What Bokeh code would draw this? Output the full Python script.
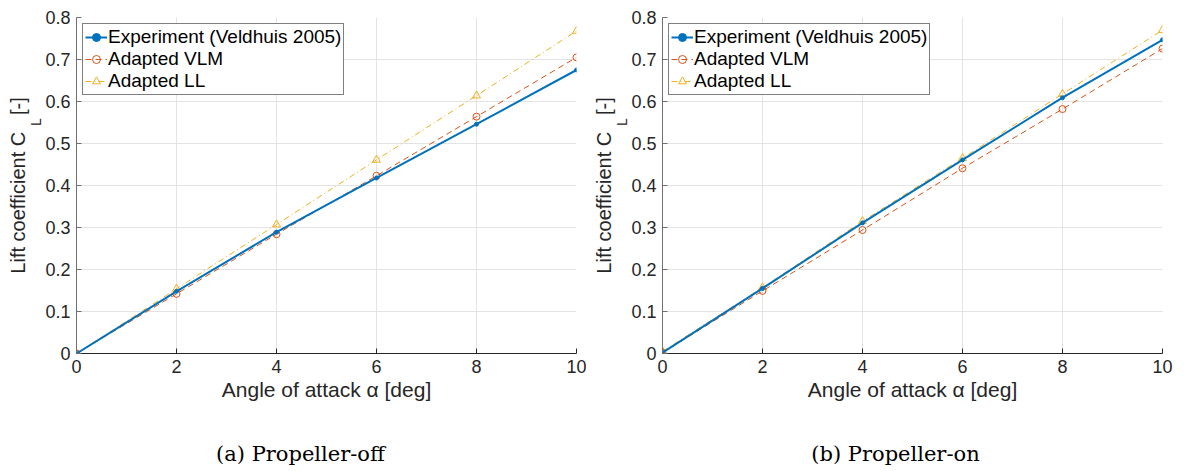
import math
from bokeh.plotting import figure
from bokeh.models import (Legend, LegendItem, FixedTicker, ColumnDataSource, Range1d, LinearAxis)
from bokeh.layouts import row
from bokeh.embed import file_html
from bokeh.resources import INLINE

# ---------------- data ----------------
alpha = [0, 2, 4, 6, 8, 10]

exp_off = [0.0, 0.148, 0.289, 0.418, 0.546, 0.675]
vlm_off = [0.0, 0.142, 0.284, 0.423, 0.564, 0.705]
ll_off = [0.0, 0.154, 0.307, 0.461, 0.614, 0.768]

exp_on = [0.002, 0.155, 0.311, 0.461, 0.609, 0.747]
vlm_on = [0.002, 0.149, 0.294, 0.441, 0.582, 0.726]
ll_on = [0.005, 0.157, 0.315, 0.465, 0.618, 0.770]

x_ticks = [0, 2, 4, 6, 8, 10]
y_ticks = [0, 0.1, 0.2, 0.3, 0.4, 0.5, 0.6, 0.7, 0.8]
y_tick_labels = ["0", "0.1", "0.2", "0.3", "0.4", "0.5", "0.6", "0.7", "0.8"]

series_names = ["Experiment (Veldhuis 2005)", "Adapted VLM", "Adapted LL"]
captions = ["(a) Propeller-off", "(b) Propeller-on"]
x_label = "Angle of attack \u03b1 [deg]"
y_label_main = "Lift coefficient C\u00a0\u00a0\u00a0[-]"
y_label_sub = "L"

C_EXP = "#0072BD"
C_VLM = "#D95319"
C_LL = "#EDB120"
SANS = "Liberation Sans"
TXT = "#262626"


def text_axis(where_tick, label, font, size, standoff, orientation):
    ax = LinearAxis(ticker=FixedTicker(ticks=[where_tick]),
                    major_label_overrides={where_tick: label})
    ax.axis_line_color = None
    ax.major_tick_line_color = None
    ax.minor_tick_line_color = None
    ax.major_tick_in = 0
    ax.major_tick_out = 0
    ax.major_label_standoff = standoff
    ax.major_label_text_font = font
    ax.major_label_text_font_size = size
    ax.major_label_text_color = TXT if font == SANS else "black"
    ax.major_label_orientation = orientation
    return ax


def make_panel(exp, vlm, ll, caption, border_left, border_right, cap_x):
    p = figure(output_backend="svg", toolbar_location=None,
               frame_width=500, frame_height=336,
               min_border_left=border_left, min_border_right=border_right,
               min_border_top=17, min_border_bottom=118,
               x_range=Range1d(0, 10), y_range=Range1d(0, 0.8))
    p.outline_line_color = None
    p.background_fill_color = "white"
    p.border_fill_color = "white"

    for ax in (p.xaxis[0], p.yaxis[0]):
        ax.major_tick_in = 5
        ax.major_tick_out = 0
        ax.minor_tick_line_color = None
        ax.major_label_text_font = SANS
        ax.major_label_text_font_size = "18px"
        ax.major_label_text_color = TXT
    p.xaxis.ticker = FixedTicker(ticks=x_ticks)
    p.yaxis.ticker = FixedTicker(ticks=y_ticks)
    p.yaxis.major_label_overrides = {t: l for t, l in zip(y_ticks, y_tick_labels)}
    p.xaxis.axis_line_color = TXT
    p.xaxis.major_tick_line_color = TXT
    p.yaxis.axis_line_color = "#707070"
    p.yaxis.major_tick_line_color = "#707070"
    p.xaxis.major_label_standoff = 6
    p.yaxis.major_label_standoff = 6
    p.xaxis.axis_label = x_label
    p.xaxis.axis_label_text_font = SANS
    p.xaxis.axis_label_text_font_size = "21px"
    p.xaxis.axis_label_text_font_style = "normal"
    p.xaxis.axis_label_text_color = TXT
    p.xaxis.axis_label_standoff = 2

    p.xgrid.ticker = FixedTicker(ticks=x_ticks)
    p.ygrid.ticker = FixedTicker(ticks=y_ticks)
    p.grid.grid_line_color = "#e3e3e3"
    p.grid.grid_line_width = 1

    src = ColumnDataSource(dict(a=alpha, e=exp, v=vlm, l=ll))
    l_ll = p.line("a", "l", source=src, color=C_LL, line_width=1, line_dash="6 3 1 3")
    m_ll = p.scatter("a", "l", source=src, marker="triangle", size=8,
                     line_color=C_LL, fill_color=None, line_width=1)
    l_v = p.line("a", "v", source=src, color=C_VLM, line_width=1, line_dash="6 4")
    m_v = p.scatter("a", "v", source=src, marker="circle", size=7,
                    line_color=C_VLM, fill_color=None, line_width=1)
    l_e = p.line("a", "e", source=src, color=C_EXP, line_width=2)
    m_e = p.scatter("a", "e", source=src, marker="circle", size=4,
                    line_color=C_EXP, fill_color=C_EXP)

    legend = Legend(items=[
        LegendItem(label=series_names[0], renderers=[l_e, m_e]),
        LegendItem(label=series_names[1], renderers=[l_v, m_v]),
        LegendItem(label=series_names[2], renderers=[l_ll, m_ll]),
    ], location="top_left")
    legend.margin = 6
    legend.padding = 2
    legend.spacing = 0
    legend.label_height = 20
    legend.glyph_height = 20
    legend.glyph_width = 22
    legend.label_standoff = 1
    legend.border_line_color = "black"
    legend.border_line_width = 1
    legend.background_fill_alpha = 1
    legend.label_text_font = SANS
    legend.label_text_font_size = "19px"
    legend.label_text_line_height = 1.0
    legend.label_text_color = "black"
    p.add_layout(legend, "center")

    # y label: subscript as a tick label, main text as that axis' label
    sub = text_axis(0.56, y_label_sub, SANS, "14px", 6, math.pi / 2)
    sub.axis_label = y_label_main
    sub.axis_label_text_font = SANS
    sub.axis_label_text_font_size = "20px"
    sub.axis_label_text_font_style = "normal"
    sub.axis_label_text_color = TXT
    sub.axis_label_standoff = -11
    p.add_layout(sub, "left")

    # caption below the x axis label
    p.add_layout(text_axis(cap_x, caption, "DejaVu Serif", "21px", 38, "horizontal"), "below")
    return p


p1 = make_panel(exp_off, vlm_off, ll_off, captions[0], 76, 10, 4.48)
p2 = make_panel(exp_on, vlm_on, ll_on, captions[1], 76, 22, 4.66)

layout = row(p1, p2, spacing=0)
open("out.html", "w").write(file_html(layout, INLINE))
